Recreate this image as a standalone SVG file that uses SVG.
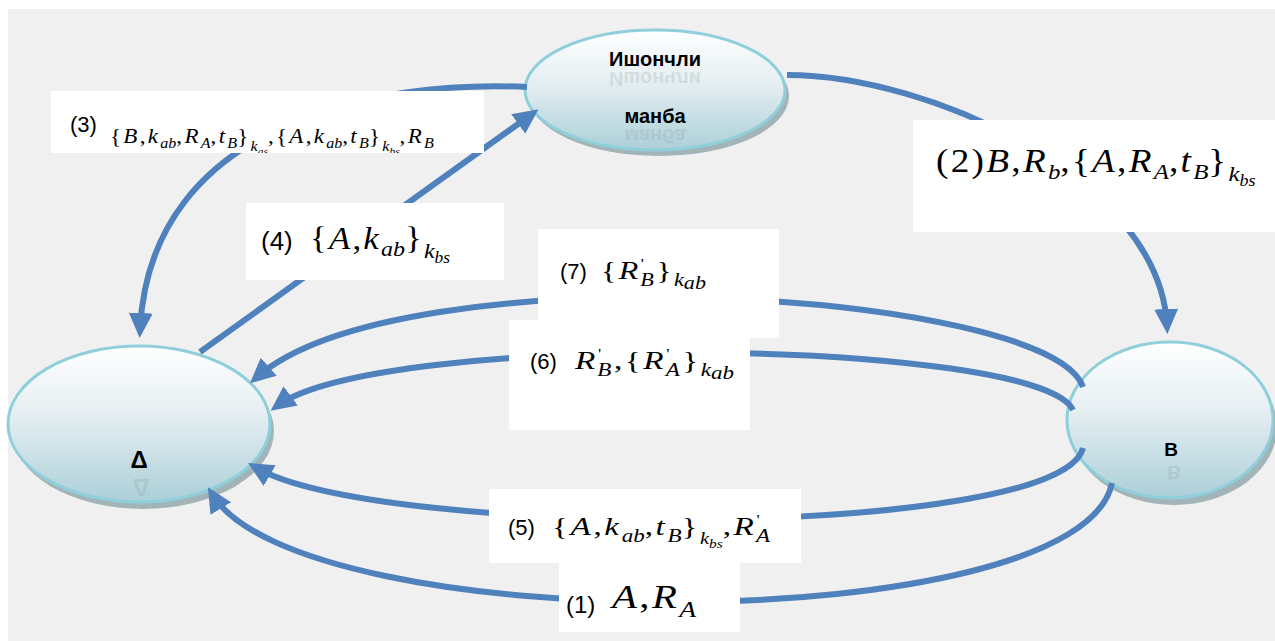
<svg xmlns="http://www.w3.org/2000/svg" width="1275" height="641" viewBox="0 0 1275 641">
  <defs>
    <linearGradient id="nodeFill" x1="0" y1="0" x2="0" y2="1">
      <stop offset="0" stop-color="#ffffff"/>
      <stop offset="0.45" stop-color="#e4eef1"/>
      <stop offset="1" stop-color="#abcfd8"/>
    </linearGradient>
    <marker id="head" markerUnits="userSpaceOnUse" markerWidth="26" markerHeight="24" refX="17" refY="12" orient="auto">
      <path d="M0,0 L25,12 L0,24 Z" fill="#4f81bd"/>
    </marker>
    <clipPath id="clip3">
      <rect x="51" y="91" width="433" height="62"/>
    </clipPath>
    <style>
      .node { fill: url(#nodeFill); stroke: #8fcfdc; stroke-width: 3; }
      .shadow { fill: #a3b4b9; }
      .ntext { font-family: "Liberation Sans", Arial, sans-serif; font-weight: bold; fill: #000; text-anchor: middle; }
      .echo { font-family: "Liberation Sans", Arial, sans-serif; font-weight: bold; fill: #7f8f95; opacity: 0.2; text-anchor: middle; }
      .edge { fill: none; stroke: #4f81bd; stroke-width: 6; marker-end: url(#head); }
      .box { fill: #ffffff; }
      .num { font-family: "Liberation Sans", Arial, sans-serif; fill: #000; }
      .math { font-family: "Liberation Serif", "Times New Roman", serif; font-style: italic; fill: #000; letter-spacing: 2px; }
      .math .s { letter-spacing: 0; }
      .up { font-style: normal; }
    </style>
  </defs>

  <!-- canvas -->
  <rect x="0" y="0" width="1275" height="641" fill="#ffffff"/>
  <rect x="8" y="9" width="1267" height="632" fill="#f0f0f0"/>

  <!-- trusted source -->
  <g id="node-source">
    <ellipse class="shadow" cx="659" cy="96" rx="130" ry="60"/>
    <ellipse class="node" cx="655" cy="90" rx="130" ry="60"/>
    <text class="echo" x="655" y="-72" font-size="20" transform="scale(1,-1)">Ишончли</text>
    <text class="ntext" x="655" y="66" font-size="20">Ишончли</text>
    <text class="echo" x="655" y="-129" font-size="20" transform="scale(1,-1)">манба</text>
    <text class="ntext" x="655" y="123" font-size="20">манба</text>
  </g>

  <!-- party A -->
  <g id="node-a">
    <ellipse class="shadow" cx="143" cy="431" rx="131" ry="78"/>
    <ellipse class="node" cx="139" cy="424" rx="131" ry="78"/>
    <text class="echo" x="141" y="-479" font-size="24" transform="scale(1,-1)">Δ</text>
    <text class="ntext" x="139" y="468" font-size="24">Δ</text>
  </g>

  <!-- party B -->
  <g id="node-b">
    <ellipse class="shadow" cx="1174" cy="427" rx="103" ry="78"/>
    <ellipse class="node" cx="1170" cy="420" rx="103" ry="78"/>
    <text class="echo" x="1174" y="-466" font-size="19" transform="scale(1,-1)">B</text>
    <text class="ntext" x="1171" y="456" font-size="19">B</text>
  </g>

  <!-- message flows -->
  <g id="connectors">
    <path class="edge" d="M527,87 C380,80 150,120 140,330"/>
    <path class="edge" d="M200,352 L532,114"/>
    <path class="edge" d="M787,75 C930,75 1160,180 1167,326"/>
    <path class="edge" d="M1083,387 C1050,290 400,250 256,378"/>
    <path class="edge" d="M1073,410 C1040,338 380,330 277,406"/>
    <path class="edge" d="M1083,448 C1060,540 380,540 255,467"/>
    <path class="edge" d="M1112,483 C1080,640 300,640 212,494"/>
  </g>

  <!-- message labels -->
  <g id="labels">
    <g id="label-3">
      <rect class="box" x="51" y="91" width="433" height="62"/>
      <text class="num" x="70" y="132" font-size="22">(3)</text>
      <g clip-path="url(#clip3)">
        <text class="math" font-size="20" transform="translate(110,143) scale(1.15,1)"><tspan class="up">{</tspan>B<tspan class="up">,</tspan>k<tspan class="s" font-size="14" baseline-shift="-5">ab</tspan><tspan class="up">,</tspan>R<tspan class="s" font-size="14" baseline-shift="-5">A</tspan><tspan class="up">,</tspan>t<tspan class="s" font-size="14" baseline-shift="-5">B</tspan><tspan class="up">}</tspan><tspan class="s" font-size="14" baseline-shift="-8">k</tspan><tspan class="s" font-size="10" baseline-shift="-12">as</tspan><tspan class="up">,{</tspan>A<tspan class="up">,</tspan>k<tspan class="s" font-size="14" baseline-shift="-5">ab</tspan><tspan class="up">,</tspan>t<tspan class="s" font-size="14" baseline-shift="-5">B</tspan><tspan class="up">}</tspan><tspan class="s" font-size="14" baseline-shift="-8">k</tspan><tspan class="s" font-size="10" baseline-shift="-12">bs</tspan><tspan class="up">,</tspan>R<tspan class="s" font-size="14" baseline-shift="-5">B</tspan></text>
      </g>
    </g>

    <g id="label-2">
      <rect class="box" x="913" y="120" width="362" height="112"/>
      <text class="math" font-size="33" transform="translate(936,172) scale(1.13,1)"><tspan class="up">(2)</tspan>B<tspan class="up">,</tspan>R<tspan class="s" font-size="22" baseline-shift="-7">b</tspan><tspan class="up">,{</tspan>A<tspan class="up">,</tspan>R<tspan class="s" font-size="22" baseline-shift="-7">A</tspan><tspan class="up">,</tspan>t<tspan class="s" font-size="22" baseline-shift="-7">B</tspan><tspan class="up">}</tspan><tspan class="s" font-size="22" baseline-shift="-9">k</tspan><tspan class="s" font-size="16" baseline-shift="-14">bs</tspan></text>
    </g>

    <g id="label-4">
      <rect class="box" x="246" y="203" width="258" height="77"/>
      <text class="num" x="261" y="250" font-size="26">(4)</text>
      <text class="math" font-size="32" transform="translate(310,249) scale(1.09,1)"><tspan class="up">{</tspan>A<tspan class="up">,</tspan>k<tspan class="s" font-size="22" baseline-shift="-7">ab</tspan><tspan class="up">}</tspan><tspan class="s" font-size="22" baseline-shift="-9">k</tspan><tspan class="s" font-size="16" baseline-shift="-14">bs</tspan></text>
    </g>

    <g id="label-7">
      <rect class="box" x="538" y="229" width="241" height="109"/>
      <text class="num" x="560" y="279" font-size="22">(7)</text>
      <text class="math" font-size="26" transform="translate(601,279) scale(1.23,1)"><tspan class="up">{</tspan>R<tspan class="up s" font-size="14" baseline-shift="10">'</tspan><tspan class="s" font-size="18" baseline-shift="-7" dx="-3">B</tspan><tspan class="up" dx="2">}</tspan><tspan class="s" font-size="18" baseline-shift="-7">k</tspan><tspan class="s" font-size="18" baseline-shift="-10">ab</tspan></text>
    </g>

    <g id="label-6">
      <rect class="box" x="509" y="320" width="241" height="110"/>
      <text class="num" x="530" y="369" font-size="22">(6)</text>
      <text class="math" font-size="26" transform="translate(575,369) scale(1.28,1)">R<tspan class="up s" font-size="14" baseline-shift="10">'</tspan><tspan class="s" font-size="18" baseline-shift="-7" dx="-3">B</tspan><tspan class="up" dx="2">,{</tspan>R<tspan class="up s" font-size="14" baseline-shift="10">'</tspan><tspan class="s" font-size="18" baseline-shift="-7" dx="-3">A</tspan><tspan class="up" dx="2">}</tspan><tspan class="s" font-size="18" baseline-shift="-7">k</tspan><tspan class="s" font-size="18" baseline-shift="-10">ab</tspan></text>
    </g>

    <g id="label-5">
      <rect class="box" x="489" y="489" width="312" height="74"/>
      <text class="num" x="508" y="535" font-size="22">(5)</text>
      <text class="math" font-size="26" transform="translate(552,535) scale(1.28,1)"><tspan class="up">{</tspan>A<tspan class="up">,</tspan>k<tspan class="s" font-size="18" baseline-shift="-7">ab</tspan><tspan class="up">,</tspan>t<tspan class="s" font-size="18" baseline-shift="-7">B</tspan><tspan class="up">}</tspan><tspan class="s" font-size="16" baseline-shift="-9">k</tspan><tspan class="s" font-size="12" baseline-shift="-13">bs</tspan><tspan class="up">,</tspan>R<tspan class="up s" font-size="14" baseline-shift="10">'</tspan><tspan class="s" font-size="18" baseline-shift="-7" dx="-3">A</tspan></text>
    </g>

    <g id="label-1">
      <rect class="box" x="559" y="562" width="181" height="70"/>
      <text class="num" x="566" y="613" font-size="24">(1)</text>
      <text class="math" font-size="34" transform="translate(612,608) scale(1.2,1)">A<tspan class="up">,</tspan>R<tspan class="s" font-size="23" baseline-shift="-9">A</tspan></text>
    </g>
  </g>
</svg>
